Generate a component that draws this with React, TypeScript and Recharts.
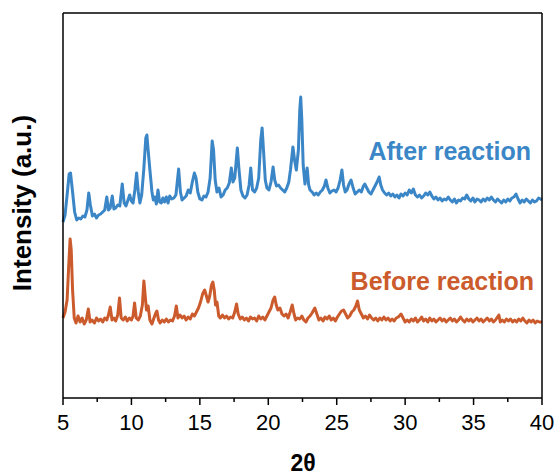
import { LineChart, Line, XAxis, YAxis } from "recharts";

// XRD patterns, [2θ, intensity (a.u.)]
const afterReaction: [number, number][] = [
  [5.0, 176], [5.15, 183], [5.3, 203], [5.45, 224], [5.55, 225], [5.7, 206], [5.85, 186],
  [6.0, 178], [6.15, 180], [6.3, 179], [6.45, 182], [6.6, 181], [6.75, 188], [6.88, 205],
  [7.0, 193], [7.15, 182], [7.3, 184], [7.45, 180], [7.6, 183], [7.75, 184], [7.9, 186],
  [8.05, 188], [8.2, 201], [8.32, 188], [8.45, 190], [8.6, 202], [8.72, 189], [8.85, 190],
  [9.0, 193], [9.15, 192], [9.33, 214], [9.47, 195], [9.6, 192], [9.75, 198], [9.87, 203],
  [10.0, 197], [10.12, 195], [10.25, 208], [10.38, 225], [10.5, 206], [10.62, 195], [10.75, 203],
  [10.9, 228], [11.05, 260], [11.13, 263], [11.22, 248], [11.35, 228], [11.5, 206], [11.6, 198],
  [11.72, 201], [11.82, 194], [11.94, 208], [12.06, 196], [12.18, 195], [12.3, 200], [12.42, 196],
  [12.55, 201], [12.68, 195], [12.8, 202], [12.95, 199], [13.1, 200], [13.25, 203], [13.45, 229],
  [13.58, 206], [13.7, 198], [13.85, 200], [14.0, 202], [14.15, 208], [14.3, 205], [14.45, 216],
  [14.6, 225], [14.72, 220], [14.85, 206], [15.0, 199], [15.15, 198], [15.3, 202], [15.45, 201],
  [15.6, 206], [15.75, 220], [15.9, 257], [16.0, 248], [16.12, 218], [16.25, 206], [16.4, 210],
  [16.55, 201], [16.7, 203], [16.85, 208], [17.0, 210], [17.15, 215], [17.3, 230], [17.42, 216],
  [17.55, 220], [17.74, 250], [17.85, 230], [18.0, 208], [18.15, 202], [18.3, 200], [18.45, 203],
  [18.6, 213], [18.72, 230], [18.85, 208], [19.0, 206], [19.15, 210], [19.3, 220], [19.45, 258],
  [19.55, 270], [19.65, 248], [19.78, 218], [19.9, 210], [20.05, 208], [20.2, 216], [20.35, 231],
  [20.47, 218], [20.6, 212], [20.75, 213], [20.9, 210], [21.05, 208], [21.2, 206], [21.35, 210],
  [21.5, 216], [21.62, 228], [21.8, 251], [21.92, 238], [22.05, 228], [22.2, 248], [22.3, 288],
  [22.37, 301], [22.45, 278], [22.55, 233], [22.68, 214], [22.84, 230], [22.95, 213], [23.05, 208],
  [23.2, 206], [23.35, 203], [23.5, 205], [23.65, 203], [23.8, 206], [23.95, 208], [24.1, 212],
  [24.22, 218], [24.35, 210], [24.5, 205], [24.65, 207], [24.8, 208], [24.95, 206], [25.1, 210],
  [25.25, 218], [25.38, 228], [25.5, 213], [25.62, 206], [25.75, 208], [25.9, 214], [26.05, 218],
  [26.2, 210], [26.35, 204], [26.5, 206], [26.65, 208], [26.8, 206], [26.95, 212], [27.05, 214],
  [27.2, 210], [27.35, 206], [27.5, 204], [27.65, 208], [27.8, 212], [27.95, 216], [28.1, 221],
  [28.22, 213], [28.35, 208], [28.5, 205], [28.65, 203], [28.8, 205], [28.95, 202], [29.1, 204],
  [29.25, 201], [29.4, 203], [29.55, 200], [29.7, 204], [29.85, 202], [30.0, 205], [30.15, 203],
  [30.3, 208], [30.45, 205], [30.6, 209], [30.75, 203], [30.9, 201], [31.05, 203], [31.2, 200],
  [31.35, 202], [31.5, 205], [31.65, 203], [31.8, 206], [31.95, 202], [32.1, 199], [32.25, 201],
  [32.4, 198], [32.55, 200], [32.7, 197], [32.85, 199], [33.0, 198], [33.15, 201], [33.3, 198],
  [33.45, 196], [33.6, 199], [33.75, 195], [33.9, 198], [34.05, 197], [34.2, 200], [34.35, 199],
  [34.5, 203], [34.65, 199], [34.8, 197], [34.95, 200], [35.1, 196], [35.25, 199], [35.4, 198],
  [35.55, 196], [35.7, 199], [35.85, 197], [36.0, 200], [36.15, 198], [36.3, 201], [36.45, 198],
  [36.6, 196], [36.75, 199], [36.9, 197], [37.05, 195], [37.2, 198], [37.35, 196], [37.5, 199],
  [37.65, 197], [37.8, 200], [37.95, 201], [38.1, 204], [38.25, 199], [38.4, 195], [38.55, 198],
  [38.7, 196], [38.85, 199], [39.0, 197], [39.15, 195], [39.3, 198], [39.45, 196], [39.6, 197],
  [39.75, 200], [39.9, 199], [40.0, 198],
];

const beforeReaction: [number, number][] = [
  [5.0, 80], [5.15, 86], [5.3, 98], [5.42, 133], [5.52, 159], [5.6, 148], [5.7, 108],
  [5.82, 80], [5.95, 75], [6.1, 82], [6.25, 76], [6.4, 80], [6.55, 74], [6.7, 78],
  [6.85, 89], [6.98, 76], [7.12, 78], [7.3, 75], [7.45, 80], [7.6, 77], [7.75, 79],
  [7.9, 76], [8.05, 80], [8.2, 78], [8.32, 83], [8.45, 91], [8.58, 78], [8.72, 80],
  [8.85, 77], [9.0, 83], [9.13, 100], [9.25, 80], [9.4, 78], [9.55, 81], [9.7, 77],
  [9.85, 80], [10.0, 78], [10.12, 82], [10.23, 95], [10.35, 80], [10.5, 78], [10.65, 82],
  [10.8, 93], [10.91, 117], [11.0, 103], [11.1, 88], [11.22, 92], [11.35, 78], [11.5, 74],
  [11.62, 79], [11.75, 84], [11.86, 87], [11.98, 78], [12.1, 75], [12.25, 78], [12.4, 76],
  [12.55, 79], [12.7, 76], [12.85, 78], [13.0, 77], [13.15, 82], [13.28, 92], [13.4, 80],
  [13.55, 83], [13.7, 80], [13.85, 82], [14.0, 78], [14.15, 81], [14.3, 79], [14.45, 84],
  [14.6, 82], [14.75, 86], [14.9, 90], [15.05, 96], [15.2, 104], [15.35, 108], [15.48, 102],
  [15.6, 96], [15.72, 102], [15.85, 113], [15.95, 116], [16.05, 108], [16.15, 93], [16.25, 96],
  [16.38, 82], [16.5, 80], [16.65, 83], [16.8, 80], [16.95, 82], [17.1, 79], [17.25, 81],
  [17.4, 80], [17.55, 86], [17.68, 94], [17.8, 84], [17.95, 79], [18.1, 81], [18.25, 78],
  [18.4, 80], [18.55, 77], [18.7, 81], [18.85, 79], [19.0, 80], [19.15, 77], [19.3, 82],
  [19.45, 79], [19.6, 81], [19.75, 78], [19.9, 82], [20.05, 86], [20.2, 90], [20.35, 98],
  [20.47, 101], [20.58, 93], [20.7, 88], [20.85, 90], [21.0, 84], [21.15, 82], [21.3, 84],
  [21.45, 80], [21.6, 86], [21.75, 93], [21.88, 84], [22.0, 78], [22.15, 80], [22.3, 79],
  [22.45, 82], [22.6, 78], [22.75, 76], [22.9, 80], [23.05, 82], [23.2, 85], [23.4, 90],
  [23.55, 84], [23.7, 78], [23.85, 80], [24.0, 77], [24.15, 81], [24.3, 79], [24.45, 82],
  [24.6, 78], [24.75, 80], [24.9, 77], [25.05, 81], [25.2, 84], [25.35, 87], [25.5, 88],
  [25.65, 84], [25.8, 80], [25.95, 82], [26.1, 86], [26.25, 88], [26.4, 92], [26.52, 97],
  [26.65, 88], [26.8, 84], [26.95, 80], [27.1, 82], [27.25, 79], [27.4, 83], [27.55, 80],
  [27.7, 78], [27.85, 80], [28.0, 77], [28.15, 80], [28.3, 78], [28.45, 81], [28.6, 78],
  [28.75, 80], [28.9, 77], [29.05, 79], [29.2, 77], [29.35, 80], [29.5, 81], [29.7, 84],
  [29.85, 80], [30.0, 76], [30.15, 78], [30.3, 76], [30.45, 79], [30.6, 77], [30.75, 80],
  [30.9, 76], [31.05, 78], [31.2, 81], [31.35, 77], [31.5, 79], [31.65, 76], [31.8, 80],
  [31.95, 77], [32.1, 79], [32.25, 76], [32.4, 78], [32.55, 80], [32.7, 77], [32.85, 79],
  [33.0, 76], [33.15, 78], [33.3, 80], [33.45, 77], [33.6, 79], [33.75, 76], [33.9, 78],
  [34.05, 81], [34.2, 78], [34.35, 76], [34.5, 79], [34.65, 77], [34.8, 79], [34.95, 76],
  [35.1, 78], [35.25, 80], [35.4, 77], [35.55, 79], [35.7, 76], [35.85, 78], [36.0, 80],
  [36.15, 77], [36.3, 79], [36.45, 76], [36.6, 78], [36.75, 81], [36.85, 83], [36.95, 76],
  [37.1, 78], [37.25, 76], [37.4, 79], [37.55, 77], [37.7, 79], [37.85, 76], [38.0, 78],
  [38.15, 76], [38.3, 79], [38.45, 77], [38.6, 80], [38.75, 77], [38.9, 75], [39.05, 78],
  [39.2, 76], [39.35, 78], [39.5, 75], [39.65, 77], [39.8, 76], [40.0, 76],
];

const angleTicks = [5, 7.5, 10, 12.5, 15, 17.5, 20, 22.5, 25, 27.5, 30, 32.5, 35, 37.5, 40];

const BLUE = "#3b86c6";
const ORANGE = "#cb5b2c";
const FONT = "'Liberation Sans', Arial, sans-serif";
const AXIS_LINE = { stroke: "#000", strokeWidth: 1.5 };

const toPoints = (rows: [number, number][]) =>
  rows.map(([angle, intensity]) => ({ angle, intensity }));

function AngleTick({ x, y, payload }: any) {
  const major = payload.value % 5 === 0;
  return (
    <g>
      <line x1={x} x2={x} y1={y} y2={y + (major ? 7 : 4)} stroke="#000" strokeWidth={1.5} />
      {major && (
        <text x={x} y={y + 32} textAnchor="middle" fontSize={22} fontFamily={FONT} fill="#000">
          {payload.value}
        </text>
      )}
    </g>
  );
}

export default function App() {
  return (
    <div style={{ position: "absolute", left: 0, top: 0, width: 558, height: 475, background: "#fff" }}>
      <LineChart
        width={558}
        height={475}
        margin={{ top: 12, right: 15, bottom: 76, left: 62 }}
      >
        <XAxis
          dataKey="angle"
          type="number"
          domain={[5, 40]}
          ticks={angleTicks}
          interval={0}
          height={1}
          tickSize={0}
          tickMargin={0}
          tickLine={false}
          tick={<AngleTick />}
          axisLine={AXIS_LINE}
        />
        <XAxis
          xAxisId="top"
          orientation="top"
          dataKey="angle"
          type="number"
          domain={[5, 40]}
          height={1}
          tick={false}
          tickLine={false}
          axisLine={AXIS_LINE}
        />
        <YAxis
          type="number"
          domain={[0, 385]}
          width={1}
          tick={false}
          tickLine={false}
          axisLine={AXIS_LINE}
        />
        <YAxis
          yAxisId="right"
          orientation="right"
          type="number"
          domain={[0, 385]}
          width={1}
          tick={false}
          tickLine={false}
          axisLine={AXIS_LINE}
        />
        <Line
          data={toPoints(afterReaction)}
          dataKey="intensity"
          type="linear"
          stroke={BLUE}
          strokeWidth={3}
          strokeLinejoin="round"
          dot={false}
          isAnimationActive={false}
        />
        <Line
          data={toPoints(beforeReaction)}
          dataKey="intensity"
          type="linear"
          stroke={ORANGE}
          strokeWidth={3}
          strokeLinejoin="round"
          dot={false}
          isAnimationActive={false}
        />
      </LineChart>
      <svg
        width={558}
        height={475}
        style={{ position: "absolute", left: 0, top: 0, pointerEvents: "none" }}
        fontFamily={FONT}
        fontWeight="bold"
      >
        <text x={531} y={160} textAnchor="end" fontSize={25} fill={BLUE}>
          After reaction
        </text>
        <text x={534} y={290} textAnchor="end" fontSize={25} fill={ORANGE}>
          Before reaction
        </text>
        <text x={303} y={471} textAnchor="middle" fontSize={23} fill="#000">
          2θ
        </text>
        <text
          transform="translate(31,203) rotate(-90)"
          textAnchor="middle"
          fontSize={26}
          fill="#000"
        >
          Intensity (a.u.)
        </text>
      </svg>
    </div>
  );
}
